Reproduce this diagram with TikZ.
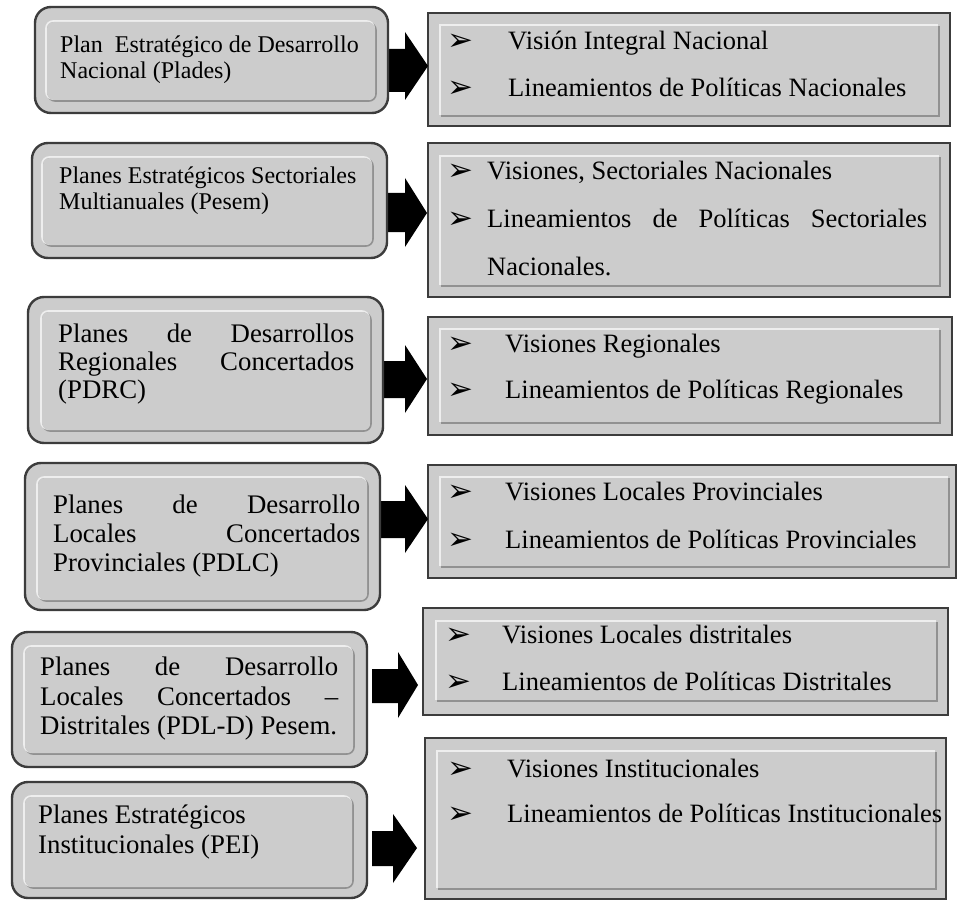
\documentclass[tikz,border=0pt]{standalone}
\usepackage{fontspec}
\setmainfont{Liberation Serif}
\newfontfamily\dvfont{DejaVu Sans}
\definecolor{boxgray}{RGB}{204,204,204}
\definecolor{edge}{RGB}{60,60,60}
\definecolor{hilite}{RGB}{238,238,238}
\definecolor{lowlite}{RGB}{145,145,145}
\newcommand\bevelbox[5]{%
  \draw[lowlite, line width=1.6pt, rounded corners=#1] (#2+1,#3+1) rectangle (#4+1,#5+1);
  \draw[hilite, line width=1.6pt, rounded corners=#1] (#2-1,#3-1) rectangle (#4-1,#5-1);
  \fill[boxgray, rounded corners=#1] (#2,#3) rectangle (#4,#5);
}
\newcommand\blockarrow[8]{% xs, xn, xt, shaft top, shaft bottom, head top, head bottom, tip y
  \fill[black] (#1,#4) -- (#2,#4) -- (#2,#6) -- (#3,#8) -- (#2,#7) -- (#2,#5) -- (#1,#5) -- cycle;
}
\begin{document}
\begin{tikzpicture}[x=1pt,y=-1pt,
  lout/.style={draw=edge, line width=2.4pt, fill=boxgray, rounded corners=16pt},
  rout/.style={draw=edge, line width=2pt, fill=boxgray},
  ltxt/.style={anchor=base west, inner sep=0pt, font=\fontsize{24}{26}\selectfont},
  ltxtb/.style={anchor=base west, inner sep=0pt, font=\fontsize{26.8}{29}\selectfont},
  rtxt/.style={anchor=base west, inner sep=0pt, font=\fontsize{26.5}{30}\selectfont},
  bul/.style={anchor=base west, inner sep=0pt, font=\dvfont\fontsize{31}{31}\selectfont}]
\useasboundingbox (0,0) rectangle (957,901);
\fill[white] (0,0) rectangle (957,901);

% ---------- right boxes ----------
\draw[rout] (428,13) rectangle (950,126);
\bevelbox{0pt}{441}{26}{938}{115}
\draw[rout] (428,143) rectangle (950,297);
\bevelbox{0pt}{441}{157}{939}{285}
\draw[rout] (428,317) rectangle (952,435);
\bevelbox{0pt}{441}{330}{939}{422}
\draw[rout] (428,465) rectangle (956,578);
\bevelbox{0pt}{441}{478}{948}{566}
\draw[rout] (423,608) rectangle (948,715);
\bevelbox{0pt}{437}{622}{936}{700}
\draw[rout] (425,738) rectangle (946,899);
\bevelbox{0pt}{438}{752}{935}{888}

% ---------- arrows ----------
\blockarrow{383}{405}{428}{49}{92}{32}{100}{66}
\blockarrow{385}{405}{427}{193}{232}{178}{247}{213}
\blockarrow{381}{405}{427}{361}{398}{345}{413}{379}
\blockarrow{378}{405}{428}{501}{538}{485}{553}{519}
\blockarrow{372}{398}{418}{669}{703}{652}{718}{685}
\blockarrow{372}{393}{417}{831}{866}{814}{883}{848}

% ---------- left boxes ----------
\draw[lout] (35,7) rectangle (388,113);
\bevelbox{7pt}{47}{22}{375}{100}
\draw[lout] (32,143) rectangle (387,258);
\bevelbox{7pt}{43}{158}{372}{245}
\draw[lout] (28,297) rectangle (383,443);
\bevelbox{7pt}{42}{312}{370}{430}
\draw[lout] (25,463) rectangle (380,610);
\bevelbox{7pt}{38}{478}{367}{600}
\draw[lout] (12,632) rectangle (367,767);
\bevelbox{7pt}{25}{647}{353}{753}
\draw[lout] (12,782) rectangle (367,898);
\bevelbox{7pt}{25}{797}{352}{887}

% ---------- left texts ----------
\node[ltxt] (l1a) at (60,53) {Plan\ \ Estratégico de Desarrollo};
\node[ltxt] (l1b) at (60,79) {Nacional (Plades)};
\node[ltxt] (l2a) at (59,184) {Planes Estratégicos Sectoriales};
\node[ltxt] (l2b) at (59,210) {Multianuales (Pesem)};
\node[ltxtb] (l3a) at (58,342) {\makebox[296pt][s]{Planes de Desarrollos}};
\node[ltxtb] (l3b) at (58,370) {\makebox[296pt][s]{Regionales Concertados}};
\node[ltxtb] (l3c) at (58,398) {(PDRC)};
\node[ltxtb] (l4a) at (53,513) {\makebox[307pt][s]{Planes de Desarrollo}};
\node[ltxtb] (l4b) at (53,542) {\makebox[307pt][s]{Locales Concertados}};
\node[ltxtb] (l4c) at (53,571) {Provinciales (PDLC)};
\node[ltxtb] (l5a) at (40,675) {\makebox[298pt][s]{Planes de Desarrollo}};
\node[ltxtb] (l5b) at (40,705) {\makebox[298pt][s]{Locales Concertados –}};
\node[ltxtb] (l5c) at (40,734) {Distritales (PDL-D) Pesem.};
\node[ltxtb] (l6a) at (38,823) {Planes Estratégicos};
\node[ltxtb] (l6b) at (38,853) {Institucionales (PEI)};

% ---------- right texts ----------
\node[bul] (b1a) at (447,51) {➢};
\node[rtxt] (r1a) at (508,50) {Visión Integral Nacional};
\node[bul] (b1b) at (447,98) {➢};
\node[rtxt] (r1b) at (508,97) {Lineamientos de Políticas Nacionales};

\node[bul] (b2a) at (447,181) {➢};
\node[rtxt] (r2a) at (487,180) {Visiones, Sectoriales Nacionales};
\node[bul] (b2b) at (447,229) {➢};
\node[rtxt] (r2b) at (487,228) {\makebox[440pt][s]{Lineamientos de Políticas Sectoriales}};
\node[rtxt] (r2c) at (487,275) {Nacionales.};

\node[bul] (b3a) at (447,353) {➢};
\node[rtxt] (r3a) at (505,352) {Visiones Regionales};
\node[bul] (b3b) at (447,399) {➢};
\node[rtxt] (r3b) at (505,398) {Lineamientos de Políticas Regionales};

\node[bul] (b4a) at (447,501) {➢};
\node[rtxt] (r4a) at (505,500) {Visiones Locales Provinciales};
\node[bul] (b4b) at (447,549) {➢};
\node[rtxt] (r4b) at (505,548) {Lineamientos de Políticas Provinciales};

\node[bul] (b5a) at (445,644) {➢};
\node[rtxt] (r5a) at (502,643) {Visiones Locales distritales};
\node[bul] (b5b) at (445,691) {➢};
\node[rtxt] (r5b) at (502,690) {Lineamientos de Políticas Distritales};

\node[bul] (b6a) at (447,778) {➢};
\node[rtxt] (r6a) at (507,777) {Visiones Institucionales};
\node[bul] (b6b) at (447,823) {➢};
\node[rtxt] (r6b) at (507,822) {Lineamientos de Políticas Institucionales};
\end{tikzpicture}
\end{document}
